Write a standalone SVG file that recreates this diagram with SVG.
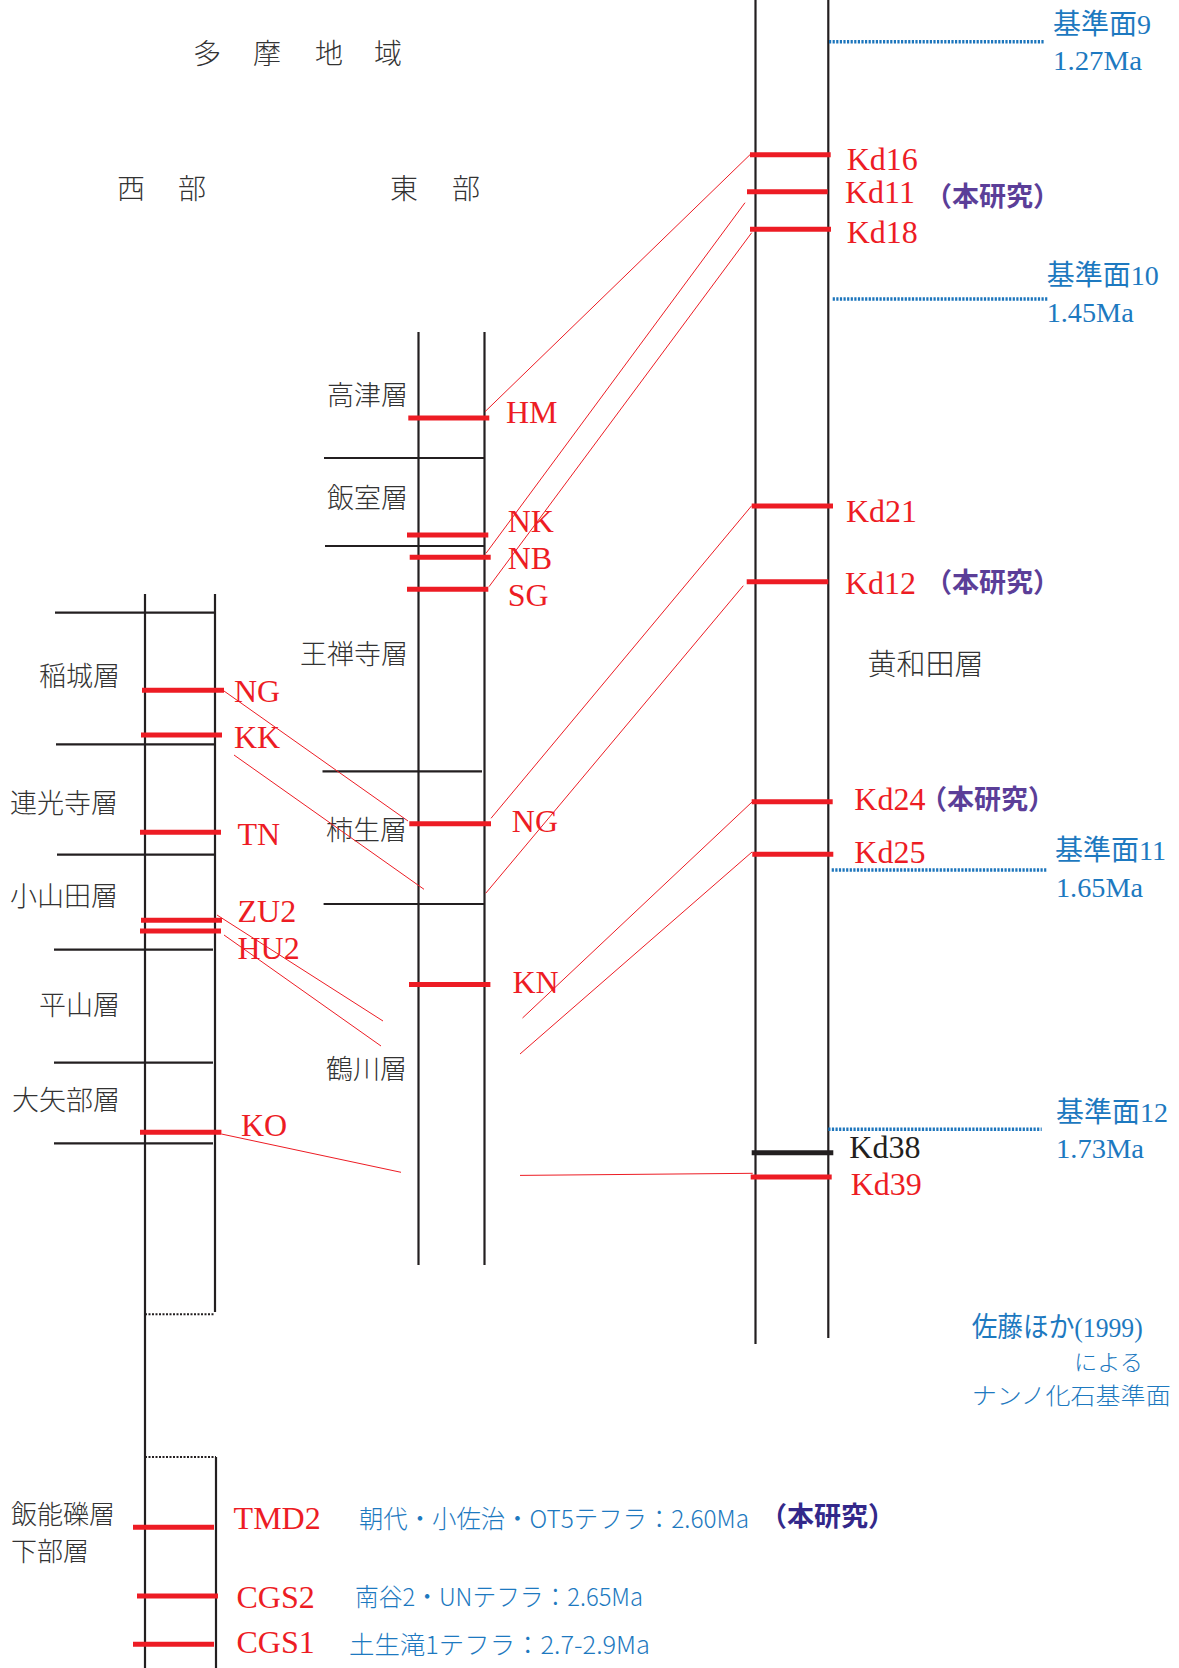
<svg xmlns="http://www.w3.org/2000/svg" width="1179" height="1668" viewBox="0 0 1179 1668">
<style>
.col{stroke:#231f20;stroke-width:2.2;fill:none}
.bd{stroke:#231f20;stroke-width:2.2}
.bar{stroke:#ed1c24;stroke-width:5}
.barK{stroke:#231f20;stroke-width:5}
.con{stroke:#ed1c24;stroke-width:1;fill:none}
.dotB{stroke:#1c75bc;stroke-width:3.5;stroke-dasharray:2.2 1.4}
.dotK{stroke:#231f20;stroke-width:2;stroke-dasharray:2 1.5}
.jp{font-family:"Noto Sans CJK JP",sans-serif;font-weight:300;fill:#333}
.lbl{font-family:"Liberation Serif","Noto Sans CJK JP",serif;font-size:32px;fill:#ed1c24}
.blk{fill:#231f20}
.blue{font-family:"Liberation Serif","Noto Sans CJK JP",serif;font-size:28px;fill:#1d79c0}
.bjp{font-family:"Noto Sans CJK JP",sans-serif;font-weight:300;fill:#1d79c0}
.hon{font-family:"Noto Sans CJK JP",sans-serif;font-weight:700;font-size:27px;fill:#5b3e98}
</style>

<g id="titles">
<text class="jp" font-size="28" x="193 253 315 374" y="64">多摩地域</text>
<text class="jp" font-size="28" x="117 178" y="199">西部</text>
<text class="jp" font-size="28" x="390 452" y="199">東部</text>
</g>

<g id="west-column">
<line class="col" x1="145" y1="594" x2="145" y2="1668"/>
<line class="col" x1="215" y1="594" x2="215" y2="1312"/>
<line class="col" x1="216" y1="1457" x2="216" y2="1668"/>
<line class="dotK" x1="145" y1="1314.3" x2="215" y2="1314.3"/>
<line class="dotK" x1="145" y1="1457" x2="216" y2="1457"/>
<line class="bd" x1="55" y1="612.7" x2="215" y2="612.7"/>
<line class="bd" x1="56" y1="744.3" x2="215" y2="744.3"/>
<line class="bd" x1="57" y1="854.7" x2="215" y2="854.7"/>
<line class="bd" x1="54" y1="949.7" x2="213" y2="949.7"/>
<line class="bd" x1="54" y1="1062.7" x2="213" y2="1062.7"/>
<line class="bd" x1="54" y1="1143.3" x2="213" y2="1143.3"/>
<text class="jp" font-size="27" x="39" y="686">稲城層</text>
<text class="jp" font-size="27" x="10" y="813">連光寺層</text>
<text class="jp" font-size="27" x="10" y="906">小山田層</text>
<text class="jp" font-size="27" x="39" y="1014.5">平山層</text>
<text class="jp" font-size="27" x="12" y="1109.5">大矢部層</text>
<text class="jp" font-size="26" x="11" y="1524">飯能礫層</text>
<text class="jp" font-size="26" x="11" y="1561">下部層</text>
</g>

<g id="west-tephra">
<line class="bar" x1="142" y1="690.3" x2="224" y2="690.3"/>
<text class="lbl" x="234" y="702">NG</text>
<line class="bar" x1="141" y1="735" x2="222" y2="735"/>
<text class="lbl" x="234" y="748.3">KK</text>
<line class="bar" x1="140" y1="832.3" x2="221" y2="832.3"/>
<text class="lbl" x="237.5" y="845">TN</text>
<line class="bar" x1="141" y1="920.3" x2="222" y2="920.3"/>
<text class="lbl" x="237.5" y="922.3">ZU2</text>
<line class="bar" x1="140" y1="931" x2="221" y2="931"/>
<text class="lbl" x="237.5" y="959.3">HU2</text>
<line class="bar" x1="140" y1="1132.3" x2="221.4" y2="1132.3"/>
<text class="lbl" x="241" y="1136">KO</text>
<line class="bar" x1="133" y1="1527.3" x2="214" y2="1527.3"/>
<text class="lbl" x="233.6" y="1529">TMD2</text>
<line class="bar" x1="137" y1="1596" x2="218" y2="1596"/>
<text class="lbl" x="236.5" y="1608">CGS2</text>
<line class="bar" x1="133" y1="1644.3" x2="214" y2="1644.3"/>
<text class="lbl" x="236.5" y="1653.3">CGS1</text>
</g>

<g id="bottom-notes">
<text class="bjp" font-size="25" x="359" y="1528" textLength="390" lengthAdjust="spacingAndGlyphs">朝代・小佐治・OT5テフラ：2.60Ma</text>
<text class="hon" font-size="28" style="fill:#33288a" x="760" y="1526">（本研究）</text>
<text class="bjp" font-size="25" x="355" y="1606" textLength="288" lengthAdjust="spacingAndGlyphs">南谷2・UNテフラ：2.65Ma</text>
<text class="bjp" font-size="25" x="349" y="1654" textLength="301" lengthAdjust="spacingAndGlyphs">土生滝1テフラ：2.7-2.9Ma</text>
</g>

<g id="east-column">
<line class="col" x1="418.5" y1="332" x2="418.5" y2="1265"/>
<line class="col" x1="484.5" y1="332" x2="484.5" y2="1265"/>
<line class="bd" x1="324" y1="458" x2="484" y2="458"/>
<line class="bd" x1="325" y1="546" x2="484" y2="546"/>
<line class="bd" x1="322.5" y1="771.3" x2="482" y2="771.3"/>
<line class="bd" x1="323.6" y1="904" x2="484" y2="904"/>
<text class="jp" font-size="27" x="327" y="405">高津層</text>
<text class="jp" font-size="27" x="327" y="508">飯室層</text>
<text class="jp" font-size="27" x="300" y="664">王禅寺層</text>
<text class="jp" font-size="27" x="326" y="839.5">柿生層</text>
<text class="jp" font-size="27" x="326" y="1078.5">鶴川層</text>
</g>

<g id="east-tephra">
<line class="bar" x1="408.3" y1="418" x2="489.3" y2="418"/>
<text class="lbl" x="506" y="422.7">HM</text>
<line class="bar" x1="407" y1="535" x2="488.3" y2="535"/>
<text class="lbl" x="507.7" y="532.3">NK</text>
<line class="bar" x1="409.7" y1="557.3" x2="490.7" y2="557.3"/>
<text class="lbl" x="507.7" y="569.3">NB</text>
<line class="bar" x1="407" y1="589.3" x2="488.3" y2="589.3"/>
<text class="lbl" x="507.7" y="605.7">SG</text>
<line class="bar" x1="409.3" y1="823.7" x2="491" y2="823.7"/>
<text class="lbl" x="511.8" y="831.7">NG</text>
<line class="bar" x1="409" y1="984.5" x2="490.4" y2="984.5"/>
<text class="lbl" x="512.5" y="993.3">KN</text>
</g>

<g id="right-column">
<line class="col" x1="755.5" y1="0" x2="755.5" y2="1344"/>
<line class="col" x1="828.3" y1="0" x2="828.3" y2="1338"/>
<text class="jp" font-size="29" x="867.5" y="674.5">黄和田層</text>
</g>

<g id="right-tephra">
<line class="bar" x1="750" y1="154.7" x2="830.7" y2="154.7"/>
<text class="lbl" x="846.7" y="170">Kd16</text>
<line class="bar" x1="747" y1="191.7" x2="827.7" y2="191.7"/>
<text class="lbl" x="845" y="203">Kd11</text>
<text class="hon" x="925" y="206">（本研究）</text>
<line class="bar" x1="750" y1="229.3" x2="831" y2="229.3"/>
<text class="lbl" x="846.7" y="242.7">Kd18</text>
<line class="bar" x1="751.7" y1="506" x2="833" y2="506"/>
<text class="lbl" x="846" y="521.7">Kd21</text>
<line class="bar" x1="746.7" y1="581.7" x2="828.3" y2="581.7"/>
<text class="lbl" x="845" y="594.3">Kd12</text>
<text class="hon" x="925" y="591.5">（本研究）</text>
<line class="bar" x1="751.7" y1="801.7" x2="832.7" y2="801.7"/>
<text class="lbl" x="854.3" y="810">Kd24</text>
<text class="hon" x="920" y="808.5">（本研究）</text>
<line class="bar" x1="752.3" y1="854.3" x2="833.3" y2="854.3"/>
<text class="lbl" x="854.3" y="863.3">Kd25</text>
<line class="barK" x1="751.7" y1="1152.7" x2="833.3" y2="1152.7"/>
<text class="lbl blk" x="849.3" y="1158.3">Kd38</text>
<line class="bar" x1="750.7" y1="1177" x2="831.7" y2="1177"/>
<text class="lbl" x="850.7" y="1195">Kd39</text>
</g>

<g id="nanno-datums">
<line class="dotB" x1="829" y1="41.7" x2="1044" y2="41.7"/>
<text class="blue" x="1053" y="34">基準面9</text>
<text class="blue" x="1053" y="70" textLength="89" lengthAdjust="spacingAndGlyphs">1.27Ma</text>
<line class="dotB" x1="832.7" y1="299" x2="1048" y2="299"/>
<text class="blue" x="1046.7" y="285">基準面10</text>
<text class="blue" x="1046.7" y="321.7" textLength="87" lengthAdjust="spacingAndGlyphs">1.45Ma</text>
<line class="dotB" x1="831.7" y1="870" x2="1046.7" y2="870"/>
<text class="blue" x="1055" y="860">基準面11</text>
<text class="blue" x="1056" y="896.7" textLength="87" lengthAdjust="spacingAndGlyphs">1.65Ma</text>
<line class="dotB" x1="828.3" y1="1129.3" x2="1041.7" y2="1129.3"/>
<text class="blue" x="1056" y="1122">基準面12</text>
<text class="blue" x="1056" y="1158.3" textLength="88" lengthAdjust="spacingAndGlyphs">1.73Ma</text>
<text class="blue" font-size="22" x="971.7" y="1337" textLength="171" lengthAdjust="spacingAndGlyphs">佐藤ほか(1999)</text>
<text class="bjp" font-size="22" x="1074" y="1370" textLength="69" lengthAdjust="spacingAndGlyphs">による</text>
<text class="bjp" font-size="23" x="971.7" y="1404" textLength="199" lengthAdjust="spacingAndGlyphs">ナンノ化石基準面</text>
</g>

<g id="connectors">
<line class="con" x1="485" y1="411.7" x2="750" y2="154.7"/>
<line class="con" x1="486" y1="553.3" x2="745" y2="202.7"/>
<line class="con" x1="489" y1="586.7" x2="751.7" y2="232.7"/>
<line class="con" x1="491" y1="818.3" x2="751.7" y2="505.7"/>
<line class="con" x1="485.7" y1="893.3" x2="743.3" y2="585.7"/>
<line class="con" x1="224" y1="691" x2="408" y2="821"/>
<line class="con" x1="234" y1="755" x2="424" y2="889.3"/>
<line class="con" x1="217" y1="915" x2="383" y2="1021"/>
<line class="con" x1="224" y1="935" x2="381" y2="1046"/>
<line class="con" x1="221.4" y1="1134" x2="401" y2="1172.3"/>
<line class="con" x1="752" y1="802" x2="522.5" y2="1018"/>
<line class="con" x1="752" y1="852" x2="520" y2="1054"/>
<line class="con" x1="520" y1="1175.4" x2="752.7" y2="1173.3"/>
</g>
</svg>
